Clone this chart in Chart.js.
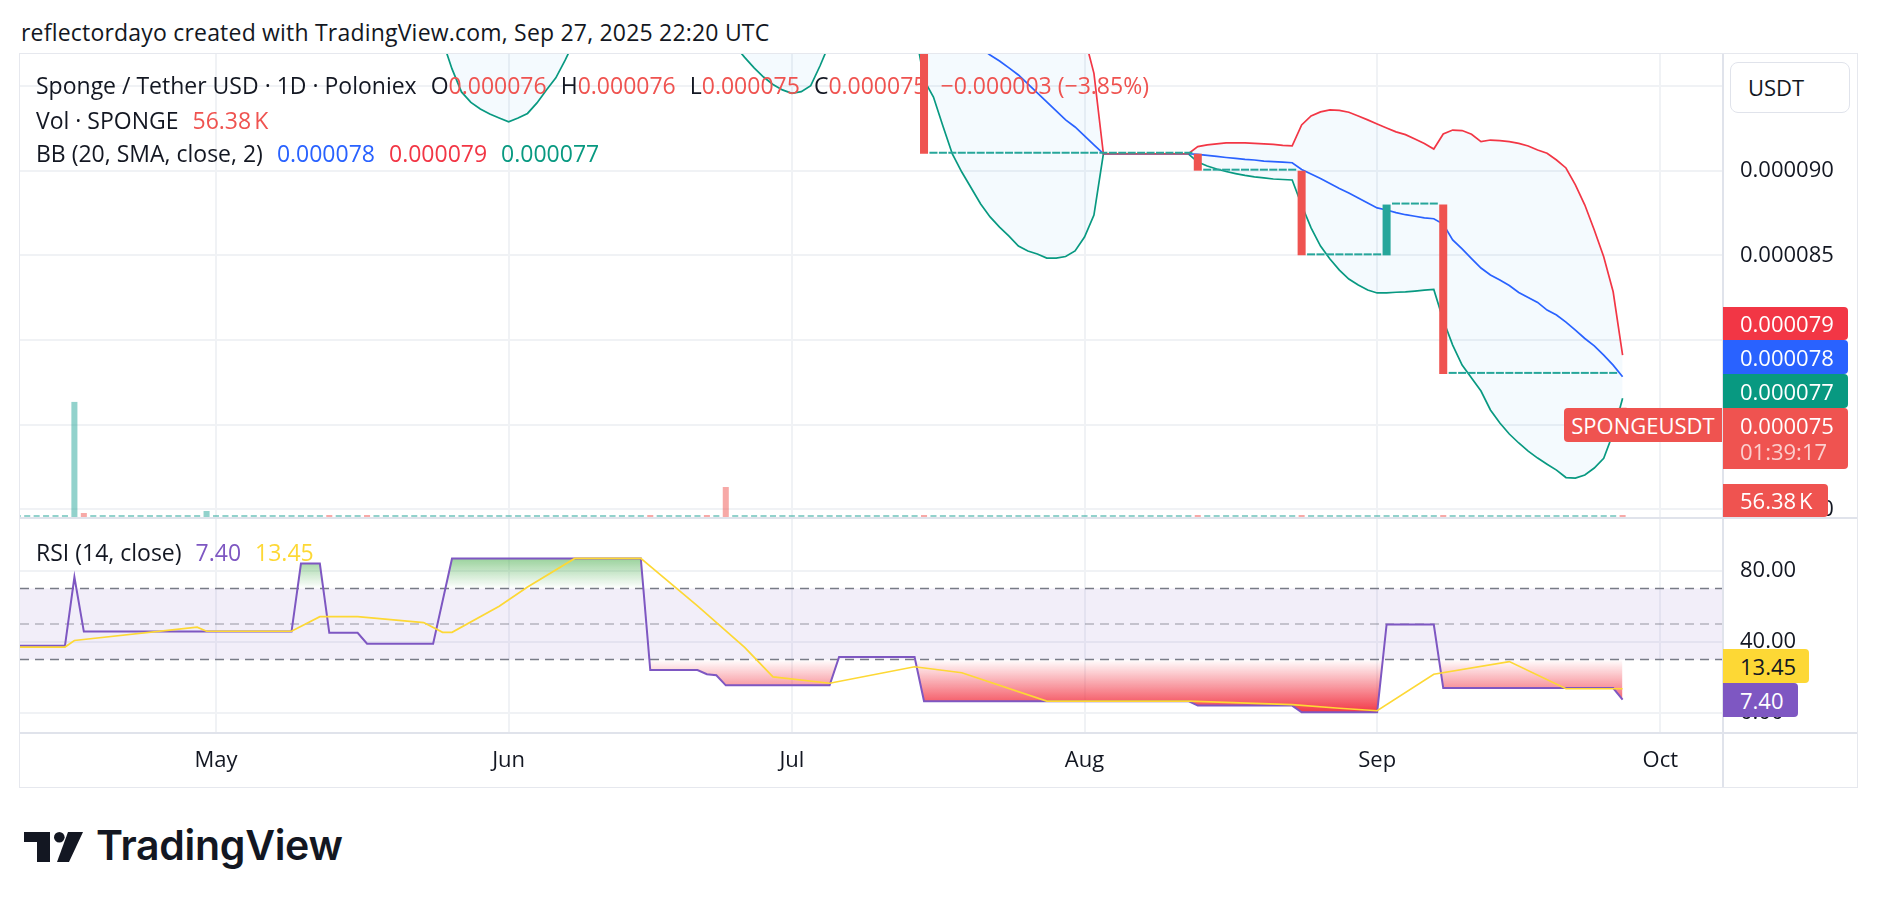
<!DOCTYPE html>
<html lang="en">
<head>
<meta charset="UTF-8">
<title>Sponge / Tether USD · 1D · Poloniex</title>
<style>
  body {
    margin: 0;
    width: 1878px;
    height: 908px;
    position: relative;
    overflow: hidden;
    background: #fff;
    font-family: 'Open Sans', Roboto, sans-serif;
    color: #131722;
  }
  .txt { position: absolute; white-space: nowrap; font-size: 23px; line-height: 26px; height: 26px; }
  .gap { margin-left: 14px; }
  .red { color: #ef5350; }
  #frame { position: absolute; left: 19px; top: 53px; width: 1837px; height: 733px; border: 1px solid #e6e8ee; }
  canvas { position: absolute; left: 20px; }
  #priceChart { top: 54px; }
  #rsiChart { top: 518px; }
  .sep { position: absolute; background: #e0e3eb; }
  .tag {
    position: absolute; left: 1723px; height: 34px; line-height: 34px; box-sizing: border-box;
    padding-left: 17px; font-size: 22px; color: #fff; border-radius: 0 4px 4px 0; white-space: nowrap;
  }
  #usdt {
    position: absolute; left: 1730px; top: 62px; width: 120px; height: 51px; box-sizing: border-box;
    border: 1px solid #e0e3eb; border-radius: 8px; background: #fff; font-size: 22px; line-height: 49px; padding-left: 17px;
  }
  #symTag {
    position: absolute; left: 1564px; top: 408px; width: 158px; height: 34px; line-height: 34px;
    background: #ef5350; color: #fff; font-size: 22px; text-align: center; border-radius: 4px 0 0 4px;
  }
  #logo { position: absolute; left: 24px; top: 832px; }
  #logoText { position: absolute; left: 96px; top: 820px; font-family: Inter, Roboto, sans-serif; font-weight: 600; font-size: 41px; line-height: 50px; color: #131722; letter-spacing: -0.3px; }
</style>
</head>
<body>
<div class="txt" style="left:21px;top:19px;letter-spacing:0.2px">reflectordayo created with TradingView.com, Sep 27, 2025 22:20 UTC</div>

<div id="frame"></div>
<canvas id="priceChart" width="1837" height="463"></canvas>
<canvas id="rsiChart" width="1837" height="268"></canvas>
<div class="sep" style="left:20px;top:517px;width:1837px;height:2px"></div>
<div class="sep" style="left:20px;top:732px;width:1837px;height:2px"></div>
<div class="sep" style="left:1722px;top:54px;width:2px;height:733px"></div>

<!-- legends -->
<div class="txt" style="left:36px;top:72px">Sponge / Tether USD · 1D · Poloniex<span class="gap">O</span><span class="red">0.000076</span><span class="gap">H</span><span class="red">0.000076</span><span class="gap">L</span><span class="red">0.000075</span><span class="gap">C</span><span class="red">0.000075</span><span class="gap red">−0.000003 (−3.85%)</span></div>
<div class="txt" style="left:36px;top:107px">Vol · SPONGE<span class="gap red">56.38&#8239;K</span></div>
<div class="txt" style="left:36px;top:140px">BB (20, SMA, close, 2)<span class="gap" style="color:#2962ff">0.000078</span><span class="gap" style="color:#f23645">0.000079</span><span class="gap" style="color:#089981">0.000077</span></div>
<div class="txt" style="left:36px;top:539px">RSI (14, close)<span class="gap" style="color:#7e57c2">7.40</span><span class="gap" style="color:#fdd835">13.45</span></div>

<!-- price scale labels -->
<div id="usdt">USDT</div>
<div class="tag" style="top:307px;width:125px;height:33px;line-height:33px;background:#f23645">0.000079</div>
<div class="tag" style="top:340px;width:125px;background:#2962ff">0.000078</div>
<div class="tag" style="top:374px;width:125px;background:#089981">0.000077</div>
<div class="tag" style="top:408px;width:125px;height:61px;background:#ef5350;line-height:normal">
  <div style="height:32px;line-height:34px">0.000075</div>
  <div style="height:27px;line-height:22px;color:rgba(255,255,255,0.72)">01:39:17</div>
</div>
<div class="tag" style="top:484px;width:105px;height:33px;line-height:33px;background:#ef5350">56.38&#8239;K</div>
<div id="symTag">SPONGEUSDT</div>
<div class="tag" style="top:649px;width:86px;background:#fdd835;color:#131722">13.45</div>
<div class="tag" style="top:683px;width:75px;background:#7e57c2">7.40</div>

<svg id="logo" width="62" height="32" viewBox="0 0 62 32">
  <path d="M0 0H26V30H13V10H0Z" fill="#131722"/>
  <circle cx="35.3" cy="5.3" r="5.3" fill="#131722"/>
  <path d="M44 0H59L45 30H33Z" fill="#131722"/>
</svg>
<div id="logoText">TradingView</div>

<script src="https://cdn.jsdelivr.net/npm/chart.js"></script>
<script>
// prices are in millionths of a USDT (91 = 0.000091), volume in thousands of SPONGE

// daily candles; earlier bars trade above the visible price range
const candleStart = '2025-07-15';
const candleOpen = [
  102,
  91, 91, 91, 91, 91, 91, 91, 91, 91, 91, 91, 91, 91, 91, 91, 91, 91, 91, 91, 91, 91, 91, 91, 91, 91, 91, 91, 91,
  91,
  90, 90, 90, 90, 90, 90, 90, 90, 90, 90,
  90,
  85, 85, 85, 85, 85, 85, 85, 85,
  85,
  88, 88, 88, 88, 88,
  88,
  78, 78, 78, 78, 78, 78, 78, 78, 78, 78, 78, 78, 78, 78, 78, 78, 78, 78,
  76
];
const candleClose = [
  91,
  91, 91, 91, 91, 91, 91, 91, 91, 91, 91, 91, 91, 91, 91, 91, 91, 91, 91, 91, 91, 91, 91, 91, 91, 91, 91, 91, 91,
  90,
  90, 90, 90, 90, 90, 90, 90, 90, 90, 90,
  85,
  85, 85, 85, 85, 85, 85, 85, 85,
  88,
  88, 88, 88, 88, 88,
  78,
  78, 78, 78, 78, 78, 78, 78, 78, 78, 78, 78, 78, 78, 78, 78, 78, 78, 78,
  75
];

// volume, one bar per day from Apr 10
const volumeStart = '2025-04-10';
const volume = [
  14, 22, 9, 31, 18, 26, 3480, 121, 12, 25,
  8, 17, 30, 11, 6, 19, 27, 13, 21, 10,
  181, 16, 24, 7, 29, 15, 20, 12, 33, 9,
  22, 18, 14, 28, 11, 26, 8, 35, 19, 13,
  24, 10, 31, 17, 6, 22, 15, 27, 12, 20,
  9, 25, 18, 14, 30, 11, 23, 16, 7, 21,
  13, 28, 10, 19, 26, 12, 17, 34, 9, 24,
  15, 20, 11, 29, 18, 907, 14, 22, 8, 27,
  16, 12, 25, 19, 10, 31, 13, 21, 17, 6,
  23, 14, 28, 11, 19, 26, 47, 9, 18, 12,
  24, 15, 7, 20, 13, 29, 10, 17, 22, 8,
  16, 25, 11, 19, 14, 27, 9, 21, 12, 18,
  6, 23, 15, 10, 28, 38, 13, 20, 8, 17,
  24, 11, 19, 14, 26, 9, 42, 16, 12, 22,
  18, 7, 25, 13, 20, 33, 11, 15, 27, 10,
  19, 44, 14, 23, 8, 17, 21, 12, 26, 9,
  16, 24, 11, 18, 13, 28, 10, 20, 15, 22,
  56.38
];
const downDays = ['2025-04-17', '2025-05-13', '2025-05-17', '2025-06-16', '2025-06-22', '2025-06-24',
  '2025-07-15', '2025-08-13', '2025-08-24', '2025-09-08', '2025-09-27'];

// Bollinger bands (20, 2) before Jul 15: only the lower band dips into view
const bbUpperEarlyDates = ['2025-04-10', '2025-06-01', '2025-07-01'];
const bbUpperEarly = [121, 115, 108];
const bbBasisEarlyDates = ['2025-04-10', '2025-06-01', '2025-07-01'];
const bbBasisEarly = [110, 104, 101];
const bbLowerEarlyDates = ['2025-04-10', '2025-05-24', '2025-05-25', '2025-05-26', '2025-05-27', '2025-05-28',
  '2025-05-29', '2025-05-30', '2025-05-31', '2025-06-01', '2025-06-02', '2025-06-03', '2025-06-04', '2025-06-05',
  '2025-06-06', '2025-06-07', '2025-06-08', '2025-06-24', '2025-06-25', '2025-06-26', '2025-06-27', '2025-06-28',
  '2025-06-29', '2025-06-30', '2025-07-01', '2025-07-02', '2025-07-03', '2025-07-04', '2025-07-05', '2025-07-06',
  '2025-07-14'];
const bbLowerEarly = [101, 98.5, 97.67, 96.01, 94.65, 94.03, 93.64, 93.35, 93.11, 92.88, 93.11, 93.38, 94.00, 94.77,
  95.48, 96.54, 97.72, 98.5, 97.37, 96.69, 96.07, 95.53, 95.09, 94.77, 94.57, 94.67, 95.02, 96.21, 97.54, 98.5, 98.5];

// Bollinger bands, daily from Jul 15 to Sep 27
const bandStart = '2025-07-15';
const bbUpper = [
  104.24, 104.45, 105.36, 106.21, 106.48, 106.42, 106.47, 106.39, 106.29, 106.00,
  105.75, 104.98, 104.10, 103.28, 102.22, 101.07, 99.90, 97.90, 95.75, 91.00,
  91, 91, 91, 91, 91, 91, 91, 91, 91,
  91.42, 91.52, 91.58, 91.64, 91.65, 91.64, 91.61, 91.58, 91.55, 91.49, 91.46,
  92.70, 93.23, 93.47, 93.59, 93.56, 93.45, 93.23, 93.00, 92.76, 92.52,
  92.29, 92.13, 91.87, 91.61, 91.28,
  92.17, 92.40, 92.37, 92.15, 91.72, 91.81, 91.78, 91.72, 91.61, 91.46,
  91.22, 91.03, 90.63, 90.16, 89.16, 87.97, 86.50, 84.92, 82.85, 79.11
];
const bbBasis = [
  99.80, 99.40, 99.00, 98.60, 98.20, 97.70, 97.25, 96.83, 96.48, 96.07,
  95.65, 95.12, 94.59, 94.06, 93.53, 93.00, 92.58, 92.05, 91.52, 91.00,
  91, 91, 91, 91, 91, 91, 91, 91, 91,
  90.96, 90.90, 90.84, 90.78, 90.73, 90.67, 90.63, 90.57, 90.53, 90.50, 90.47,
  90.07, 89.80, 89.54, 89.24, 88.95, 88.68, 88.39, 88.09, 87.80, 87.68,
  87.52, 87.40, 87.31, 87.21, 87.16,
  86.85, 85.91, 85.38, 84.81, 84.25, 83.84, 83.54, 83.22, 82.81, 82.51,
  82.22, 81.77, 81.48, 81.06, 80.59, 80.09, 79.65, 79.11, 78.52, 77.83
];
const bbLower = [
  95.36, 94.35, 92.64, 90.99, 89.92, 88.98, 88.03, 87.27, 86.67, 86.14,
  85.55, 85.26, 85.08, 84.84, 84.84, 84.93, 85.26, 86.08, 87.38, 91.00,
  91, 91, 91, 91, 91, 91, 91, 91, 91,
  90.51, 90.28, 90.10, 89.95, 89.83, 89.72, 89.63, 89.57, 89.51, 89.48, 89.45,
  87.97, 86.62, 85.55, 84.78, 84.13, 83.60, 83.25, 82.95, 82.78, 82.79,
  82.82, 82.84, 82.89, 82.95, 82.99,
  81.18, 79.70, 78.52, 77.76, 76.99, 75.87, 75.10, 74.45, 73.92, 73.44,
  73.03, 72.67, 72.32, 71.88, 71.85, 72.03, 72.44, 73.01, 74.49, 76.56
];

// RSI (14) and its moving average, at the days where the line turns
const rsiDates = ['2025-04-10', '2025-04-15', '2025-04-16', '2025-04-17', '2025-05-09', '2025-05-10', '2025-05-12',
  '2025-05-13', '2025-05-16', '2025-05-17', '2025-05-24', '2025-05-26', '2025-06-15', '2025-06-16', '2025-06-21',
  '2025-06-22', '2025-06-23', '2025-06-24', '2025-07-05', '2025-07-06', '2025-07-14', '2025-07-15', '2025-08-12',
  '2025-08-13', '2025-08-23', '2025-08-24', '2025-09-01', '2025-09-02', '2025-09-07', '2025-09-08', '2025-09-26',
  '2025-09-27'];
const rsiValues = [37.7, 37.7, 76.4, 45.7, 45.7, 84.0, 84.0, 45.0, 45.0, 38.9, 38.9, 86.9, 86.9, 24.0, 24.0,
  21.7, 21.1, 15.4, 15.4, 31.4, 31.4, 6.5, 6.5, 4.0, 4.0, 0.2, 0.2, 49.7, 49.7, 13.9, 13.9, 7.4];
const maDates = ['2025-04-10', '2025-04-15', '2025-04-16', '2025-04-29', '2025-04-30', '2025-05-09', '2025-05-12',
  '2025-05-16', '2025-05-23', '2025-05-25', '2025-05-26', '2025-05-31', '2025-06-03', '2025-06-08', '2025-06-15',
  '2025-06-21', '2025-06-26', '2025-06-29', '2025-07-05', '2025-07-14', '2025-07-19', '2025-07-28', '2025-08-12',
  '2025-08-23', '2025-08-28', '2025-09-01', '2025-09-07', '2025-09-15', '2025-09-21', '2025-09-27'];
const maValues = [37.0, 37.0, 40.7, 48.2, 45.9, 45.9, 54.1, 54.1, 50.8, 45.3, 45.3, 60.0, 70.8, 86.9, 86.9,
  60.2, 36.8, 20.2, 16.6, 25.9, 22.5, 6.5, 6.5, 4.6, 2.5, 1.1, 21.7, 28.8, 13.5, 13.5];
const rsiLevels = [70, 50, 30];

// axes
const monthStarts = ['2025-05-01', '2025-06-01', '2025-07-01', '2025-08-01', '2025-09-01', '2025-10-01'];
const monthNames = ['May', 'Jun', 'Jul', 'Aug', 'Sep', 'Oct'];
const priceGrid = [70, 75, 80, 85, 90, 95];
const rsiGrid = [0, 40, 80];

// ---- helpers ----
const day0 = Date.parse('2025-04-01T00:00:00Z');
const dayOf = iso => (Date.parse(iso + 'T00:00:00Z') - day0) / 864e5;
const pts = (dates, values) => dates.map((d, i) => ({ x: dayOf(d), y: values[i] }));
const daily = (start, values) => values.map((v, i) => ({ x: dayOf(start) + i, y: v }));

const viewFrom = 9.237, viewTo = 189.53;
const GRID = '#f0f2f5';
const TEAL = '#26a69a', RED = '#ef5350';

Chart.defaults.font.family = "'Open Sans', Roboto, sans-serif";
Chart.defaults.color = '#131722';

const monthTicks = s => { s.ticks = monthStarts.map(d => ({ value: dayOf(d) })); };
const noPad = s => { s.paddingLeft = 0; s.paddingRight = 0; s.paddingTop = 0; s.paddingBottom = 0; };

// ---- price pane ----
const downSet = new Set(downDays.map(dayOf));
const volStart = dayOf(volumeStart);
const candleDay0 = dayOf(candleStart);

new Chart(document.getElementById('priceChart'), {
  type: 'bar',
  data: {
    datasets: [
      {
        type: 'bar', yAxisID: 'yv',
        data: volume.map((v, i) => ({ x: volStart + i, y: v })),
        backgroundColor: volume.map((v, i) => downSet.has(volStart + i) ? 'rgba(239,83,80,0.5)' : 'rgba(38,166,154,0.5)'),
        barPercentage: 0.64, categoryPercentage: 1, grouped: false, minBarLength: 2, order: 10
      },
      {
        type: 'line', yAxisID: 'y',
        data: [...pts(bbUpperEarlyDates, bbUpperEarly), ...daily(bandStart, bbUpper)],
        borderColor: '#f23645', borderWidth: 1.7, pointRadius: 0, tension: 0, fill: false, order: 5
      },
      {
        type: 'line', yAxisID: 'y',
        data: [...pts(bbBasisEarlyDates, bbBasisEarly), ...daily(bandStart, bbBasis)],
        borderColor: '#2962ff', borderWidth: 1.7, pointRadius: 0, tension: 0, fill: false, order: 5
      },
      {
        type: 'line', yAxisID: 'y',
        data: [...pts(bbLowerEarlyDates, bbLowerEarly), ...daily(bandStart, bbLower)],
        borderColor: '#089981', borderWidth: 1.7, pointRadius: 0, tension: 0,
        fill: 1, backgroundColor: 'rgba(33,150,243,0.05)', order: 5
      },
      {
        type: 'bar', yAxisID: 'y',
        data: candleOpen.map((o, i) => ({ x: candleDay0 + i, y: [o, candleClose[i]] })),
        backgroundColor: candleOpen.map((o, i) => candleClose[i] < o ? RED : TEAL),
        barPercentage: 0.85, categoryPercentage: 1, grouped: false, minBarLength: 2, order: 0
      }
    ]
  },
  options: {
    responsive: false, animation: false, devicePixelRatio: 1, events: [],
    layout: { padding: 0 },
    plugins: { legend: { display: false }, tooltip: { enabled: false }, filler: { drawTime: 'beforeDatasetsDraw' } },
    scales: {
      x: {
        type: 'linear', min: viewFrom, max: viewTo, bounds: 'data', offset: false,
        grid: { color: GRID, lineWidth: 2, drawTicks: false, offset: false }, border: { display: false },
        ticks: { display: false },
        afterBuildTicks: monthTicks,
        afterFit: s => { s.height = 0; noPad(s); }
      },
      y: {
        position: 'right', min: 69.55, max: 96.89, bounds: 'data',
        grid: { color: GRID, lineWidth: 2, drawTicks: false }, border: { display: false },
        ticks: { padding: 18, font: { size: 22 }, color: '#131722', autoSkip: false, callback: v => (v / 1e6).toFixed(6) },
        afterBuildTicks: s => { s.ticks = priceGrid.map(v => ({ value: v })); },
        afterFit: s => { s.width = 135; noPad(s); }
      },
      yv: { display: false, min: 0, max: 14000 }
    }
  }
});

// ---- RSI pane ----
const levelLine = v => [{ x: viewFrom, y: v }, { x: viewTo, y: v }];
const rsiPts = pts(rsiDates, rsiValues);
const clear = 'rgba(0,0,0,0)';

const gradientFor = (ctx, from, to, rgb) => {
  const chart = ctx.chart;
  if (!chart.chartArea) return clear;
  const ys = chart.scales.y;
  const g = chart.ctx.createLinearGradient(0, ys.getPixelForValue(from), 0, ys.getPixelForValue(to));
  g.addColorStop(0, 'rgba(' + rgb + ',1)');
  g.addColorStop(1, 'rgba(' + rgb + ',0)');
  return g;
};

new Chart(document.getElementById('rsiChart'), {
  type: 'line',
  data: {
    datasets: [
      {
        data: levelLine(rsiLevels[0]), borderColor: '#787b86', borderWidth: 1.6, borderDash: [9, 6],
        pointRadius: 0, fill: 2, backgroundColor: 'rgba(126,87,194,0.1)', order: 5
      },
      {
        data: levelLine(rsiLevels[1]), borderColor: 'rgba(120,123,134,0.5)', borderWidth: 1.6, borderDash: [9, 6],
        pointRadius: 0, fill: false, order: 5
      },
      {
        data: levelLine(rsiLevels[2]), borderColor: '#787b86', borderWidth: 1.6, borderDash: [9, 6],
        pointRadius: 0, fill: false, order: 5
      },
      {
        data: rsiPts, borderColor: clear, borderWidth: 1, pointRadius: 0, order: 4,
        fill: { target: { value: rsiLevels[0] }, above: ctx => gradientFor(ctx, 100, rsiLevels[0], '76,175,80'), below: clear }
      },
      {
        data: rsiPts, borderColor: clear, borderWidth: 1, pointRadius: 0, order: 4,
        fill: { target: { value: rsiLevels[2] }, above: clear, below: ctx => gradientFor(ctx, 0, rsiLevels[2], '242,54,69') }
      },
      {
        data: rsiPts, borderColor: '#7e57c2', borderWidth: 2, pointRadius: 0, fill: false, order: 2
      },
      {
        data: pts(maDates, maValues), borderColor: '#fdd835', borderWidth: 1.7, pointRadius: 0, fill: false, order: 1
      }
    ]
  },
  options: {
    responsive: false, animation: false, devicePixelRatio: 1, events: [],
    layout: { padding: 0 },
    plugins: { legend: { display: false }, tooltip: { enabled: false }, filler: { drawTime: 'beforeDatasetsDraw' } },
    scales: {
      x: {
        type: 'linear', min: viewFrom, max: viewTo, bounds: 'data', offset: false,
        grid: { color: GRID, lineWidth: 2, drawTicks: false, offset: false }, border: { display: false },
        ticks: { padding: 16, font: { size: 22 }, color: '#131722', autoSkip: false, maxRotation: 0,
                 callback: (v, i) => monthNames[i] },
        afterBuildTicks: monthTicks,
        afterFit: s => { s.height = 54; noPad(s); }
      },
      y: {
        position: 'right', min: -10.87, max: 109.7, bounds: 'data',
        grid: { color: GRID, lineWidth: 2, drawTicks: false }, border: { display: false },
        ticks: { padding: 18, font: { size: 22 }, color: '#131722', autoSkip: false, callback: v => v.toFixed(2) },
        afterBuildTicks: s => { s.ticks = rsiGrid.map(v => ({ value: v })); },
        afterFit: s => { s.width = 135; noPad(s); }
      }
    }
  }
});
</script>
</body>
</html>
